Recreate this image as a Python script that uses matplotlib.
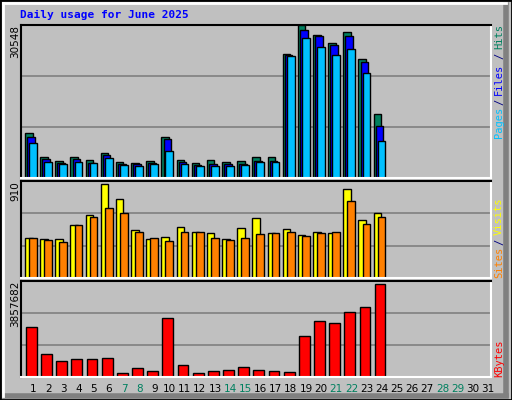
import matplotlib
matplotlib.use("Agg")
from matplotlib import pyplot as plt
import numpy as np

days = np.arange(1, 32)
hits = [9045, 4220, 3415, 4220, 3620, 5025, 3215, 3015, 3415, 8240, 3620, 3015, 3620, 3215, 3415, 4220, 4220,
        24720, 30548, 28540, 26930, 29140, 23715, 12860]
files = [8240, 3820, 3015, 3820, 3015, 4625, 2815, 2815, 3015, 7840, 3215, 2615, 2815, 2815, 2815, 3415, 3415,
         24520, 29545, 28340, 26530, 28340, 23115, 10450]
pages = [7035, 3215, 2815, 3215, 3015, 4020, 2615, 2410, 2815, 5425, 2815, 2410, 2410, 2410, 2615, 3215, 3215,
         24320, 27940, 26130, 24520, 25725, 20900, 7435]
visits = [375, 365, 365, 498, 593, 882, 739, 451, 365, 384, 479, 432, 422, 365, 470, 565, 422, 460, 403, 432, 422,
          834, 546, 612]
sites = [375, 356, 337, 498, 574, 660, 612, 432, 375, 346, 432, 432, 375, 356, 375, 413, 422, 432, 394, 422, 432,
         723, 508, 574]
kbytes = [2010000, 912000, 627000, 709000, 709000, 750000, 179000, 342000, 261000, 2380000, 464000, 179000,
          261000, 301000, 383000, 301000, 261000, 220000, 1646000, 2257000, 2175000, 2623000, 2827000, 3723000]
max_hits, max_visits, max_kb = 30548, 910, 3857682
weekend = [7, 8, 14, 15, 21, 22, 28, 29]

W, H = 512, 400
fig = plt.figure(figsize=(W / 100, H / 100), dpi=100)
fig.patch.set_facecolor("#C0C0C0")
mono = "DejaVu Sans Mono"
green = "#00805F"

def add_ax(top, bot):
    ax = fig.add_axes([21 / W, (H - bot) / H, 470 / W, (bot - top) / H])
    ax.set_facecolor("#C0C0C0")
    ax.set_xlim(0.2, 31.2)
    ax.set_xticks([])
    ax.set_yticks([])
    for s in ["top", "left"]:
        ax.spines[s].set_color("black")
        ax.spines[s].set_linewidth(1.5)
    for s in ["bottom", "right"]:
        ax.spines[s].set_color("white")
        ax.spines[s].set_linewidth(1.5)
    return ax

n = len(hits)
d = days[:n]
ax1 = add_ax(25, 178)
ax1.set_ylim(0, max_hits * 1.0)
for g in [1 / 3, 2 / 3]:
    ax1.axhline(max_hits * g, color="gray", lw=1.2, zorder=0)
kw = dict(align="edge", edgecolor="black", linewidth=1)
ax1.bar(d - 0.54, hits, 0.5, color="#00805F", **kw)
ax1.bar(d - 0.40, files, 0.5, color="#0000FF", **kw)
ax1.bar(d - 0.27, pages, 0.51, color="#00C0FF", **kw)

ax2 = add_ax(181, 278)
ax2.set_ylim(0, max_visits)
for g in [1 / 3, 2 / 3]:
    ax2.axhline(max_visits * g, color="gray", lw=1.2, zorder=0)
ax2.bar(d - 0.54, visits, 0.5, color="#FFFF00", **kw)
ax2.bar(d - 0.27, sites, 0.51, color="#FF8000", **kw)

ax3 = add_ax(281, 377)
ax3.set_ylim(0, max_kb)
for g in [1 / 3, 2 / 3]:
    ax3.axhline(max_kb * g, color="gray", lw=1.2, zorder=0)
ax3.bar(d - 0.47, kbytes, 0.71, color="#FF0000", **kw)

for day in days:
    x = (21 + (day - 0.2) * 470 / 31) / W
    fig.text(x, 1 - 389 / H, str(day), ha="center", va="center", fontsize=7.5,
             color=green if day in weekend else "black", family="DejaVu Sans")

fig.text(20 / W, 1 - 15 / H, "Daily usage for June 2025", color="#0000FF", fontsize=8,
         fontweight="bold", family=mono, va="center")
for txt, y in [("30548", 25), ("910", 181), ("3857682", 281)]:
    fig.text(15 / W, 1 - y / H, txt, rotation=90, ha="center", va="top", fontsize=7.5)

def rlab(parts, y0):
    y = y0
    for t, c, h in parts:
        fig.text(499 / W, 1 - y / H, t, rotation=90, ha="center", va="bottom", color=c,
                 fontsize=7.5, family=mono)
        y -= h

rlab([("Pages", "#00C0FF", 33), ("/", "#000080", 10), ("Files", "#0000FF", 36), ("/", "#000080", 10),
      ("Hits", green, 0)], 138)
rlab([("Sites", "#FF8000", 33), ("/", "#000080", 10), ("Visits", "#FFFF00", 0)], 278)
rlab([("KBytes", "#FF0000", 0)], 377)

# frame bevel
from matplotlib.patches import Rectangle
fig.patches.append(Rectangle((0, 0), 1, 1, transform=fig.transFigure, fill=False, edgecolor="black", lw=2))
fig.add_artist(plt.Line2D([506 / W, 506 / W], [5 / H, 1 - 5 / H], color="gray", lw=4))
fig.add_artist(plt.Line2D([5 / W, 506 / W], [4 / H, 4 / H], color="gray", lw=4))
fig.add_artist(plt.Line2D([3 / W, 3 / W], [4 / H, 1 - 3 / H], color="white", lw=2))
fig.add_artist(plt.Line2D([3 / W, 506 / W], [1 - 3 / H, 1 - 3 / H], color="white", lw=2))

fig.savefig("out.png", dpi=100, facecolor=fig.get_facecolor())
